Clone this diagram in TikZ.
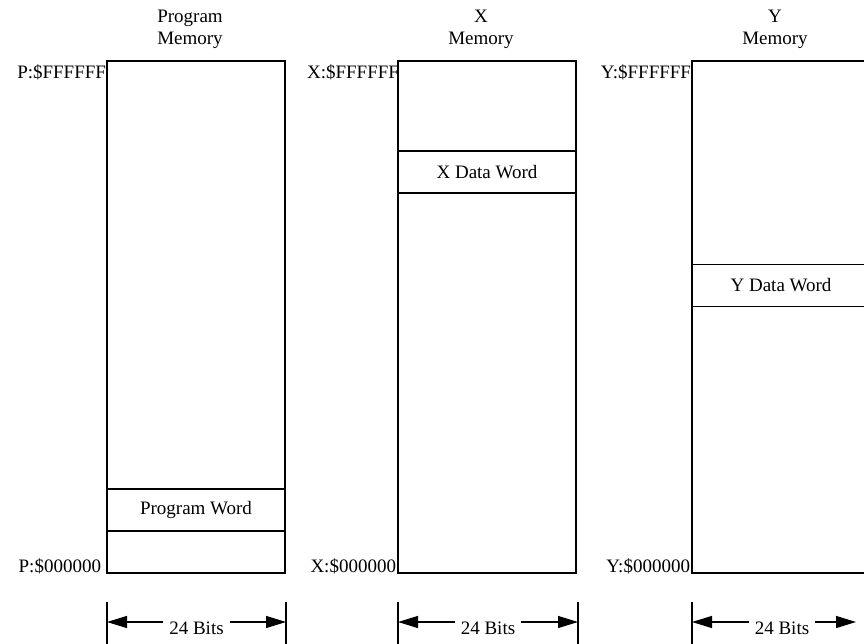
\documentclass[tikz,border=0pt]{standalone}
\usepackage{fontspec}
\setmainfont{Liberation Serif}
\usetikzlibrary{arrows.meta}
\begin{document}
\begin{tikzpicture}[x=1pt,y=-1pt,
  every node/.style={font=\fontsize{19}{22}\selectfont, inner sep=0pt, outer sep=0pt},
  membox/.style={draw, line width=1.6pt, minimum width=178pt, minimum height=512pt},
  wordbox/.style={draw, line width=1.6pt, minimum width=178pt, minimum height=42pt},
  title/.style={align=center},
  addr/.style={anchor=east},
  bar/.style={line width=1.3pt},
  dim/.style={line width=1.3pt, -{Triangle[length=20pt,width=12pt]}}]
\clip (0,0) rectangle (864,644);
% titles
\node[title] (tP) at (190,29.5) {Program\\Memory};
\node[title] (tX) at (481,29.5) {X\\Memory};
\node[title] (tY) at (775,29.5) {Y\\Memory};
% memory boxes
\node[membox] (P) at (196,317) {};
\node[membox] (X) at (487,317) {};
\node[membox] (Y) at (781,317) {};
% word boxes
\node[wordbox] (PW) at (196,510) {Program Word};
\node[wordbox] (XW) at (487,172) {X Data Word};
\node[wordbox] (YW) at (781,285.5) {Y Data Word};
% address labels
\node[addr, anchor=north east] (Ptop) at ([xshift=-1pt,yshift=-4pt]P.north west) {P:\$FFFFFF};
\node[addr, anchor=north east] (Xtop) at ([xshift=1pt,yshift=-4pt]X.north west) {X:\$FFFFFF};
\node[addr, anchor=north east] (Ytop) at ([xshift=-1pt,yshift=-4pt]Y.north west) {Y:\$FFFFFF};
\node[addr, anchor=base east] (Pbot) at ([xshift=-6pt,yshift=1pt]P.south west) {P:\$000000};
\node[addr, anchor=base east] (Xbot) at ([xshift=-2pt,yshift=1pt]X.south west) {X:\$000000};
\node[addr, anchor=base east] (Ybot) at ([xshift=-2pt,yshift=1pt]Y.south west) {Y:\$000000};
% dimension bars
\coordinate (PL) at (107,622); \coordinate (PR) at (286,622);
\coordinate (XL) at (398,622); \coordinate (XR) at (578,622);
\coordinate (YL) at (692,622); \coordinate (YR) at (872,622);
\foreach \c in {PL,PR,XL,XR,YL,YR}{
  \draw[bar] ([yshift=-22pt]\c) -- ([yshift=20pt]\c);
}
\node[inner xsep=6pt] (bP) at (196.5,628) {24 Bits};
\node[inner xsep=6pt] (bX) at (488,628) {24 Bits};
\node[inner xsep=6pt] (bY) at (782,628) {24 Bits};
\draw[dim] (bP.west |- PL) -- (PL);
\draw[dim] (bP.east |- PR) -- (PR);
\draw[dim] (bX.west |- XL) -- (XL);
\draw[dim] (bX.east |- XR) -- (XR);
\draw[dim] (bY.west |- YL) -- (YL);
\draw[dim] (bY.east |- YR) -- ([xshift=-16pt]YR);
\end{tikzpicture}
\end{document}
